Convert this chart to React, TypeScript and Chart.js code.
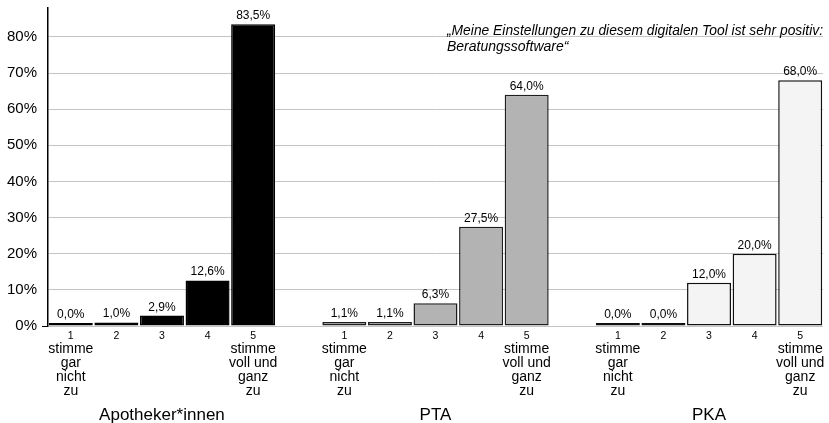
import React, { useEffect, useRef } from 'react';
import { Chart, registerables } from 'chart.js';

Chart.register(...registerables);

const groups = ['Apotheker*innen', 'PTA', 'PKA'];
const scalePoints = ['1', '2', '3', '4', '5'];
const scaleNotes: string[][] = [
  ['stimme', 'gar', 'nicht', 'zu'],
  [],
  [],
  [],
  ['stimme', 'voll und', 'ganz', 'zu'],
];
const apothekerValues = [0.0, 1.0, 2.9, 12.6, 83.5];
const ptaValues = [1.1, 1.1, 6.3, 27.5, 64.0];
const pkaValues = [0.0, 0.0, 12.0, 20.0, 68.0];
const groupColors = ['#000000', '#b3b3b3', '#f4f4f4'];
const groupBorders = ['#000000', '#1e1e1e', '#111111'];
const yTickValues = [0, 10, 20, 30, 40, 50, 60, 70, 80];
const titleLines = [
  '„Meine Einstellungen zu diesem digitalen Tool ist sehr positiv:',
  'Beratungssoftware“',
];

const FONT = '"Liberation Sans", Arial, sans-serif';

export default function App() {
  const canvasRef = useRef<HTMLCanvasElement | null>(null);

  useEffect(() => {
    document.body.style.margin = '0';
    const seriesByGroup = [apothekerValues, ptaValues, pkaValues];
    const labels: string[] = [];
    const values: (number | null)[] = [];
    const bg: string[] = [];
    const bd: string[] = [];
    const pointIdx: number[] = [];
    const groupIdx: number[] = [];
    seriesByGroup.forEach((vals, g) => {
      if (g > 0) {
        labels.push('');
        values.push(null);
        bg.push('transparent');
        bd.push('transparent');
        pointIdx.push(-1);
        groupIdx.push(-1);
      }
      vals.forEach((v, k) => {
        labels.push(`${groups[g]} ${scalePoints[k]}`);
        values.push(v);
        bg.push(groupColors[g]);
        bd.push(groupBorders[g]);
        pointIdx.push(k);
        groupIdx.push(g);
      });
    });

    const fmt = (v: number) => v.toFixed(1).replace('.', ',') + '%';

    const overlay = {
      id: 'overlay',
      afterDraw(chart: any) {
        const ctx = chart.ctx as CanvasRenderingContext2D;
        const xs = chart.scales.x;
        const area = chart.chartArea;
        const meta = chart.getDatasetMeta(0);
        ctx.save();
        ctx.fillStyle = '#000';
        // value labels
        ctx.textAlign = 'center';
        ctx.textBaseline = 'alphabetic';
        ctx.font = `12px ${FONT}`;
        meta.data.forEach((bar: any, i: number) => {
          const v = values[i];
          if (v == null) return;
          ctx.fillText(fmt(v), bar.x, bar.y - 5);
        });
        // category labels
        values.forEach((v, i) => {
          if (v == null) return;
          const x = xs.getPixelForValue(i);
          const k = pointIdx[i];
          ctx.font = `10.5px ${FONT}`;
          ctx.fillText(scalePoints[k], x, area.bottom + 13);
          ctx.font = `14px ${FONT}`;
          scaleNotes[k].forEach((line, j) => {
            ctx.fillText(line, x, area.bottom + 27 + j * 14);
          });
          if (k === 2) {
            ctx.font = `17px ${FONT}`;
            ctx.fillText(groups[groupIdx[i]], x, area.bottom + 94);
          }
        });
        // title
        ctx.textAlign = 'left';
        ctx.font = `italic 14px ${FONT}`;
        titleLines.forEach((line, j) => {
          ctx.fillText(line, 447, 35 + j * 16, 376);
        });
        ctx.restore();
      },
    };

    const chart = new Chart(canvasRef.current as HTMLCanvasElement, {
      type: 'bar',
      data: {
        labels,
        datasets: [
          {
            data: values as any,
            backgroundColor: bg,
            borderColor: bd,
            borderWidth: 1.5,
            borderSkipped: false,
            minBarLength: 3,
            categoryPercentage: 1,
            barPercentage: 0.965,
          },
        ],
      },
      options: {
        animation: false,
        responsive: true,
        maintainAspectRatio: false,
        layout: { padding: { top: 8, right: 6, left: 0, bottom: 0 } },
        plugins: {
          legend: { display: false },
          tooltip: { enabled: false },
          title: { display: false },
        },
        scales: {
          x: {
            type: 'category',
            grid: { display: false },
            border: { display: false },
            ticks: { display: false },
            afterFit: (s: any) => {
              s.height = 97;
              s.paddingLeft = 0;
              s.paddingRight = 0;
            },
          },
          y: {
            min: 0,
            max: 88,
            afterBuildTicks: (s: any) => {
              s.ticks = yTickValues.map((v) => ({ value: v }));
            },
            ticks: {
              callback: (v: any) => `${v}%`,
              color: '#000',
              font: { family: FONT, size: 15 },
              padding: 5,
            },
            grid: {
              color: '#c4c4c4',
              lineWidth: 1,
              drawTicks: true,
              tickLength: 6,
              tickColor: (c: any) => (c.tick && c.tick.value === 0 ? '#000' : 'transparent'),
            },
            border: { display: true, color: '#000', width: 1.5 },
            afterFit: (s: any) => {
              s.width = 48;
              s.paddingTop = 0;
              s.paddingBottom = 0;
            },
          },
        },
      },
      plugins: [overlay],
    });
    return () => chart.destroy();
  }, []);

  return (
    <div style={{ width: 829, height: 423, position: 'relative' }}>
      <canvas ref={canvasRef} />
    </div>
  );
}
